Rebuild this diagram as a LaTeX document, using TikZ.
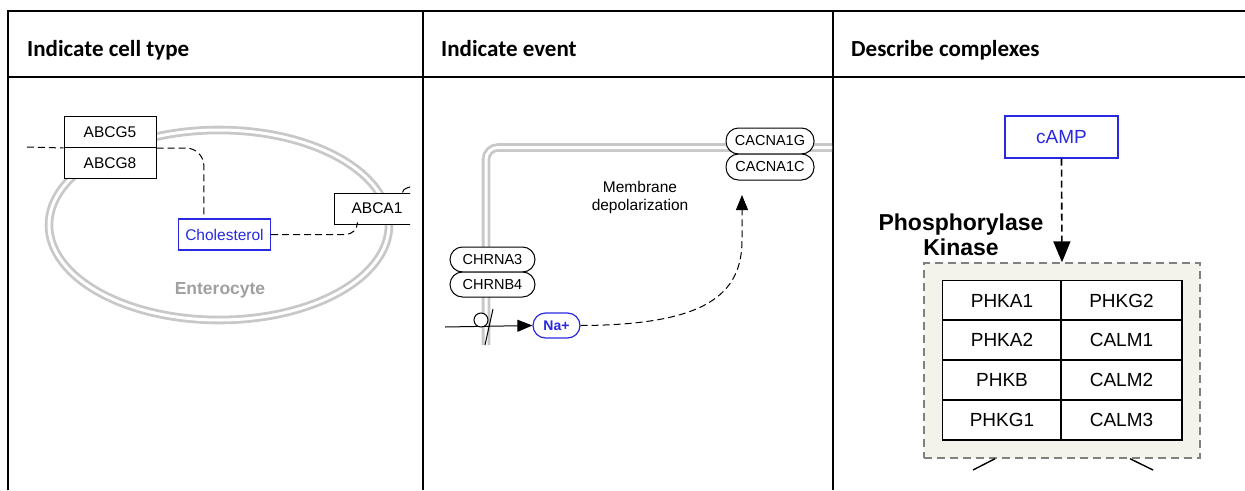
\documentclass[tikz,border=0pt]{standalone}
\usepackage{fontspec}
\setmainfont{Carlito}
\newfontfamily\helv{Liberation Sans}
\usetikzlibrary{arrows.meta}
\definecolor{molblue}{RGB}{40,40,225}
\definecolor{memgray}{RGB}{200,200,200}
\definecolor{cellgray}{RGB}{160,160,160}
\definecolor{cplxfill}{RGB}{244,243,235}
\begin{document}
\begin{tikzpicture}[x=1pt,y=-1pt,
  tbl/.style={line width=2pt},
  head/.style={font=\bfseries\fontsize{23}{27}\selectfont,anchor=base west,inner sep=0pt},
  membrane/.style={draw=memgray,line width=2.8pt,double=white,double distance=3pt},
  gene/.style={draw,fill=white,inner sep=0pt,line width=1pt,font=\helv\fontsize{15.5}{18}\selectfont,minimum width=92pt,minimum height=31pt},
  metab/.style={gene,draw=molblue,text=molblue,line width=1.2pt},
  chan/.style={gene,rounded corners=12.5pt,minimum width=88pt,minimum height=26pt,font=\helv\fontsize{14.5}{17}\selectfont},
  sub/.style={draw,fill=white,inner sep=0pt,line width=1.6pt,font=\helv\fontsize{19}{22}\selectfont,minimum width=119pt,minimum height=40pt},
  dsh/.style={dashed,dash pattern=on 7pt off 4pt,line width=1pt}]
\useasboundingbox (0,0) rectangle (1245,490);

% table frame and headings
\draw[tbl] (8,490) -- (8,11) -- (1245,11);
\draw[tbl] (8,77) -- (1245,77);
\draw[tbl] (423,11) -- (423,490);
\draw[tbl] (833,11) -- (833,490);
\node[head] (h1) at (27,56) {Indicate cell type};
\node[head] (h2) at (441,56) {Indicate event};
\node[head] (h3) at (851,56) {Describe complexes};

% cell type
\begin{scope}
\clip (10,79) rectangle (410,489);
\draw[membrane] (219,225) ellipse [x radius=170pt,y radius=95pt];
\node[font=\helv\bfseries\fontsize{17.5}{20}\selectfont,text=cellgray] (ent) at (220,290) {Enterocyte};
\node[gene] (abcg5) at (110,132) {ABCG5};
\node[gene] (abcg8) at (110,163) {ABCG8};
\node[metab] (chol) at (224.5,234.5) {Cholesterol};
\node[gene,minimum width=86pt] (abca1) at (377,208.5) {ABCA1};
\coordinate (lft) at (27,147);
\draw[dsh] (lft) -- (abcg5.south west);
\draw[dsh,rounded corners=18pt] (abcg5.south east) -| ([xshift=26pt]chol.north west);
\draw[dsh,rounded corners=12pt] (chol.east) -| ([xshift=24pt]abca1.south west);
\draw[line width=1pt] ([xshift=69pt]abca1.north west) to[out=80,in=200] ++(9,-6);
\end{scope}

% event
\begin{scope}
\clip (425,79) rectangle (832,489);
\draw[membrane,rounded corners=12pt] (486,345) -- (486,147.5) -- (832,147.5);
\node[chan] (cacna1g) at (770,141) {CACNA1G};
\node[chan] (cacna1c) at (770,167) {CACNA1C};
\node[font=\helv\fontsize{15.5}{18}\selectfont,align=center] (depol) at (640,197) {Membrane\\depolarization};
\node[chan,minimum width=85pt,minimum height=25pt] (chrna3) at (492.5,259.5) {CHRNA3};
\node[chan,minimum width=85pt,minimum height=25pt] (chrnb4) at (492.5,284.5) {CHRNB4};
\node[chan,draw=molblue,text=molblue,line width=1.2pt,minimum width=47pt,minimum height=25pt,font=\helv\bfseries\fontsize{14}{16}\selectfont] (na) at (556.5,325.5) {Na+};
\coordinate (nain) at (445,327);
\coordinate (dep) at (742,195);
\coordinate (gtop) at (493,309);
\coordinate (gbot) at (485,345);
\draw[line width=1pt,-{Triangle[length=15pt,width=12pt]}] (nain) -- (na.west);
\node[circle,draw,fill=white,line width=1pt,minimum size=14pt,inner sep=0pt] (gate) at (481,320) {};
\draw[line width=1pt] (gtop) -- (gbot);
\draw[dsh,-{Triangle[length=15pt,width=12pt]}] (na.east) .. controls (705,325) and (742,295) .. (742,240) -- (dep);
\end{scope}

% complexes
\node[draw=molblue,text=molblue,line width=1.4pt,inner sep=0pt,minimum width=113pt,minimum height=42pt,font=\helv\fontsize{19}{22}\selectfont] (camp) at (1061.5,137) {cAMP};
\node[draw=gray,fill=cplxfill,dashed,dash pattern=on 8pt off 5pt,line width=1.4pt,minimum width=276pt,minimum height=195pt] (phk) at (1062,360.5) {};
\node[font=\helv\bfseries\fontsize{23}{25}\selectfont,align=center] (phklab) at (961,235) {Phosphorylase\\Kinase};
\draw[dsh,line width=1.6pt,-{Triangle[length=21pt,width=17pt]}] (camp.south) -- (phk.north);
\node[sub] (phka1) at (1002,300.5) {PHKA1};
\node[sub] (phka2) at (1002,340) {PHKA2};
\node[sub] (phkb) at (1002,380) {PHKB};
\node[sub] (phkg1) at (1002,420) {PHKG1};
\node[sub,minimum width=121pt] (phkg2) at (1121.5,300.5) {PHKG2};
\node[sub,minimum width=121pt] (calm1) at (1121.5,340) {CALM1};
\node[sub,minimum width=121pt] (calm2) at (1121.5,380) {CALM2};
\node[sub,minimum width=121pt] (calm3) at (1121.5,420) {CALM3};
\coordinate (outl) at (973,470);
\coordinate (outr) at (1153,470);
\draw[line width=1.4pt] ([xshift=-67pt]phk.south) -- (outl);
\draw[line width=1.4pt] ([xshift=68pt]phk.south) -- (outr);
\end{tikzpicture}
\end{document}
